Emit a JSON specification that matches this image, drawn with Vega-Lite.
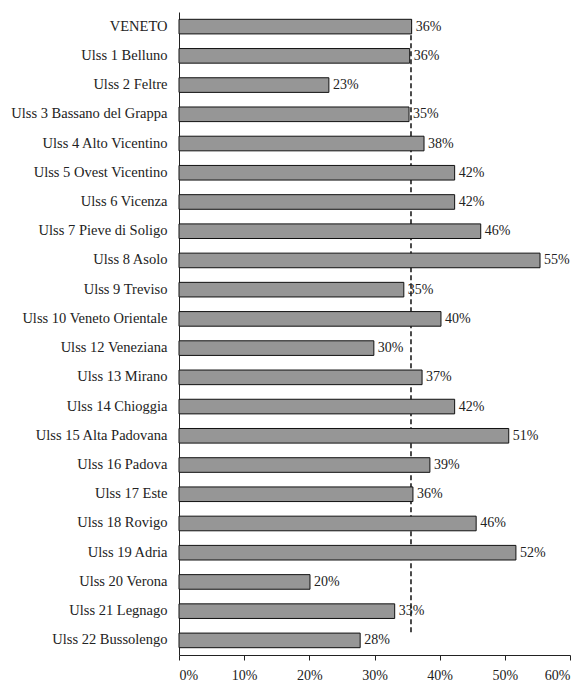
{
  "$schema": "https://vega.github.io/schema/vega-lite/v6.json",
  "width": 391,
  "height": 643,
  "autosize": "none",
  "padding": {"left": 179, "top": 12, "right": 15, "bottom": 29},
  "background": "white",
  "config": {
    "view": {"stroke": null},
    "font": "Liberation Serif",
    "axis": {"labelFont": "Liberation Serif", "labelColor": "#222", "grid": false, "domainColor": "#222", "tickColor": "#222", "labelFontSize": 14}
  },
  "data": {
    "values": [
      {"area": "VENETO", "v": 0.357, "lab": "36%"},
      {"area": "Ulss 1 Belluno", "v": 0.354, "lab": "36%"},
      {"area": "Ulss 2 Feltre", "v": 0.230, "lab": "23%"},
      {"area": "Ulss 3 Bassano del Grappa", "v": 0.353, "lab": "35%"},
      {"area": "Ulss 4 Alto Vicentino", "v": 0.376, "lab": "38%"},
      {"area": "Ulss 5 Ovest Vicentino", "v": 0.423, "lab": "42%"},
      {"area": "Ulss 6 Vicenza", "v": 0.423, "lab": "42%"},
      {"area": "Ulss 7 Pieve di Soligo", "v": 0.463, "lab": "46%"},
      {"area": "Ulss 8 Asolo", "v": 0.554, "lab": "55%"},
      {"area": "Ulss 9 Treviso", "v": 0.345, "lab": "35%"},
      {"area": "Ulss 10 Veneto Orientale", "v": 0.402, "lab": "40%"},
      {"area": "Ulss 12 Veneziana", "v": 0.299, "lab": "30%"},
      {"area": "Ulss 13 Mirano", "v": 0.373, "lab": "37%"},
      {"area": "Ulss 14 Chioggia", "v": 0.423, "lab": "42%"},
      {"area": "Ulss 15 Alta Padovana", "v": 0.506, "lab": "51%"},
      {"area": "Ulss 16 Padova", "v": 0.385, "lab": "39%"},
      {"area": "Ulss 17 Este", "v": 0.359, "lab": "36%"},
      {"area": "Ulss 18 Rovigo", "v": 0.456, "lab": "46%"},
      {"area": "Ulss 19 Adria", "v": 0.517, "lab": "52%"},
      {"area": "Ulss 20 Verona", "v": 0.201, "lab": "20%"},
      {"area": "Ulss 21 Legnago", "v": 0.331, "lab": "33%"},
      {"area": "Ulss 22 Bussolengo", "v": 0.278, "lab": "28%"}
    ]
  },
  "encoding": {
    "y": {
      "field": "area", "type": "nominal", "sort": null, "title": null,
      "scale": {
        "domain": ["VENETO", "Ulss 1 Belluno", "Ulss 2 Feltre", "Ulss 3 Bassano del Grappa", "Ulss 4 Alto Vicentino", "Ulss 5 Ovest Vicentino", "Ulss 6 Vicenza", "Ulss 7 Pieve di Soligo", "Ulss 8 Asolo", "Ulss 9 Treviso", "Ulss 10 Veneto Orientale", "Ulss 12 Veneziana", "Ulss 13 Mirano", "Ulss 14 Chioggia", "Ulss 15 Alta Padovana", "Ulss 16 Padova", "Ulss 17 Este", "Ulss 18 Rovigo", "Ulss 19 Adria", "Ulss 20 Verona", "Ulss 21 Legnago", "Ulss 22 Bussolengo"],
        "paddingInner": 0.5, "paddingOuter": 0.25
      },
      "axis": {"ticks": false, "labelPadding": 12, "domainWidth": 1, "labelFontSize": 14.5}
    }
  },
  "layer": [
    {
      "data": {"values": [{"ref": 0.356, "a": "VENETO", "b": "Ulss 22 Bussolengo"}]},
      "mark": {"type": "rule", "strokeDash": [5, 3], "strokeWidth": 1.5, "color": "#111"},
      "encoding": {
        "x": {"field": "ref", "type": "quantitative"},
        "y": {"field": "a", "type": "nominal", "sort": null, "bandPosition": 0},
        "y2": {"field": "b", "bandPosition": 0}
      }
    },
    {
      "mark": {"type": "bar", "fill": "#969696", "stroke": "#111", "strokeWidth": 1},
      "encoding": {
        "x": {
          "field": "v", "type": "quantitative", "title": null,
          "scale": {"domain": [0, 0.6], "nice": false},
          "axis": {"format": ".0%", "values": [0, 0.1, 0.2, 0.3, 0.4, 0.5, 0.6], "tickSize": 5, "labelPadding": 8, "domainWidth": 1}
        }
      }
    },
    {
      "mark": {"type": "text", "align": "left", "baseline": "middle", "dx": 4, "fontSize": 14, "color": "#222", "font": "Liberation Serif"},
      "encoding": {
        "x": {"field": "v", "type": "quantitative"},
        "text": {"field": "lab"}
      }
    }
  ]
}
